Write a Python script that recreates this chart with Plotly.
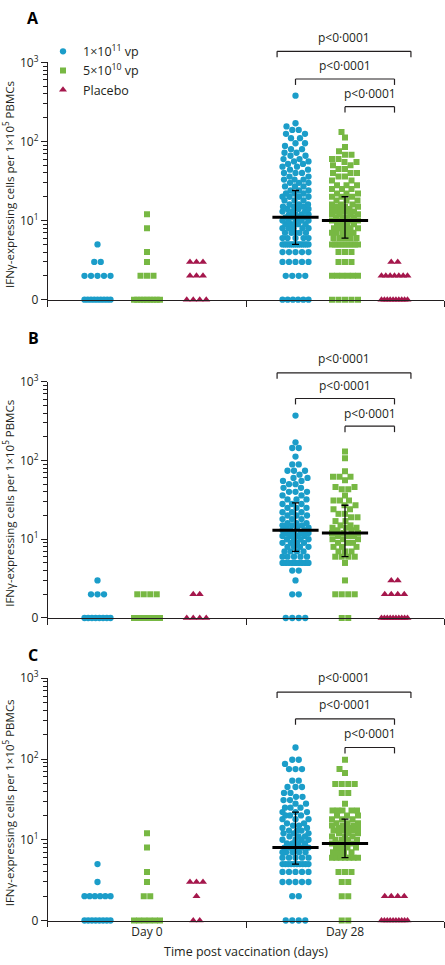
import numpy as np
import plotly.graph_objects as go

# groups, colours, markers
GROUPS = ["1×10<sup>11</sup> vp", "5×10<sup>10</sup> vp", "Placebo"]
COLORS = ["#1b9dc9", "#77b843", "#a5174c"]
SYMBOLS = ["circle", "square", "triangle-up"]
SIZES = [6.3, 6, 7]
DAYS = ["Day 0", "Day 28"]
PANELS = ["A", "B", "C"]
Y_TICKS = [1, 10, 100, 1000]
Y_TICKTEXT = ["0", "10<sup>1</sup>", "10<sup>2</sup>", "10<sup>3</sup>"]
P_TEXT = "p&lt;0·0001"

A_D0_HI = [(0, 9), (2, 5), (3, 2), (5, 1)]
A_D0_MID = [(0, 9), (2, 3), (3, 1), (4, 1), (8, 1), (12, 1)]
A_D0_PBO = [(0, 4), (2, 3), (3, 3)]
A_D28_HI = [(0, 6), (2, 4), (3, 5), (4, 5), (5, 14), (6, 5), (7, 5), (8, 5), (9, 5),
            (10, 5), (11, 4), (12, 4), (13, 3), (14, 3), (15, 3), (16, 3), (18, 3),
            (20, 4), (22, 3), (24, 3), (27, 3), (30, 3), (33, 3), (36, 2), (40, 3),
            (44, 2), (48, 2), (52, 2), (56, 2), (60, 2), (66, 2), (72, 2), (80, 2),
            (88, 1), (95, 2), (110, 2), (125, 2), (140, 2), (155, 1), (170, 1), (380, 1)]
A_D28_MID = [(0, 5), (2, 6), (3, 3), (4, 3), (5, 10), (6, 5), (7, 5), (8, 5), (9, 4),
             (10, 5), (11, 4), (12, 4), (13, 3), (14, 3), (15, 3), (16, 3), (18, 3),
             (20, 3), (22, 3), (25, 3), (28, 3), (32, 2), (36, 2), (40, 3), (45, 2),
             (50, 2), (55, 2), (60, 2), (68, 2), (75, 1), (85, 1), (112, 1), (132, 1)]
A_D28_PBO = [(0, 10), (2, 7), (3, 2)]

B_D0_HI = [(0, 8), (2, 3), (3, 1)]
B_D0_MID = [(0, 6), (2, 4)]
B_D0_PBO = [(0, 4), (2, 2)]
B_D28_HI = [(0, 4), (2, 2), (3, 1), (4, 2), (5, 9), (6, 5), (7, 4), (8, 4), (9, 4),
            (10, 4), (11, 4), (12, 4), (13, 3), (14, 3), (15, 3), (16, 3), (18, 3),
            (20, 3), (22, 3), (25, 3), (28, 3), (32, 3), (36, 2), (40, 3), (45, 2),
            (50, 2), (55, 2), (60, 2), (66, 1), (74, 3), (89, 2), (112, 1), (144, 2),
            (170, 1), (372, 1)]
B_D28_MID = [(0, 2), (2, 4), (3, 1), (5, 1), (6, 4), (7, 3), (8, 3), (9, 3), (10, 3),
             (11, 3), (12, 3), (13, 2), (14, 3), (15, 2), (17, 2), (19, 2), (21, 2),
             (24, 2), (27, 2), (31, 3), (36, 1), (43, 2), (46, 2), (56, 1), (62, 3),
             (73, 1), (107, 1), (130, 1)]
B_D28_PBO = [(0, 10), (2, 4), (3, 2)]

C_D0_HI = [(0, 8), (2, 6), (3, 1), (5, 1)]
C_D0_MID = [(0, 6), (2, 2), (3, 1), (4, 1), (8, 1), (12, 1)]
C_D0_PBO = [(0, 2), (2, 1), (3, 3)]
C_D28_HI = [(0, 4), (2, 2), (3, 5), (4, 5), (5, 10), (6, 5), (7, 5), (8, 5), (9, 4),
            (10, 4), (11, 3), (12, 3), (13, 3), (14, 2), (15, 2), (16, 2), (18, 3),
            (20, 3), (22, 3), (25, 3), (28, 2), (31, 2), (34, 2), (38, 2), (45, 3),
            (54, 2), (75, 3), (87, 1), (98, 2), (139, 1)]
C_D28_MID = [(0, 2), (2, 2), (3, 2), (4, 3), (6, 7), (7, 4), (8, 4), (9, 4), (10, 4),
             (11, 3), (12, 3), (13, 3), (14, 3), (15, 3), (16, 3), (18, 3), (20, 3),
             (23, 5), (28, 1), (38, 2), (49, 4), (67, 1), (75, 1), (98, 1)]
C_D28_PBO = [(0, 10), (2, 4)]

# day 28 median and IQR (1e11, 5e10)
MEDIAN_A, Q1_A, Q3_A = [11, 10], [5, 6], [24, 20]
MEDIAN_B, Q1_B, Q3_B = [13, 12], [7, 6], [29, 27]
MEDIAN_C, Q1_C, Q3_C = [8, 9], [5, 6], [22, 18]

DATA = {
    "A": [[A_D0_HI, A_D0_MID, A_D0_PBO], [A_D28_HI, A_D28_MID, A_D28_PBO]],
    "B": [[B_D0_HI, B_D0_MID, B_D0_PBO], [B_D28_HI, B_D28_MID, B_D28_PBO]],
    "C": [[C_D0_HI, C_D0_MID, C_D0_PBO], [C_D28_HI, C_D28_MID, C_D28_PBO]],
}
STATS = {"A": (MEDIAN_A, Q1_A, Q3_A), "B": (MEDIAN_B, Q1_B, Q3_B), "C": (MEDIAN_C, Q1_C, Q3_C)}

# page geometry (px): top of axis (10^3), "0" line, bottom of axis line
W, H = 445, 965
ML, MR = 48, 1
UNIT_PX = (W - ML - MR) / 2.0
GEOM = {"A": (53, 293, 300), "B": (376, 615, 622), "C": (676, 921, 928)}
LETTER_Y = {"A": 8, "B": 332, "C": 652}
OFFSETS = [-0.25, 0.0, 0.25]

# bracket heights in log10 units: (bracket, text)
BRACKETS = {
    "A": [(3.14, 3.31), (2.79, 2.96), (2.44, 2.61)],
    "B": [(3.113, 3.30), (2.787, 2.95), (2.435, 2.60)],
    "C": [(2.829, 3.01), (2.498, 2.67), (2.143, 2.318)],
}
BRACKET_X = [(0.657, 1.333), (0.75, 1.25), (1.0, 1.25)]
INK = "#231f20"
FONT = "Open Sans"


def swarm(pairs, dec_px, d=6.5, hw=13.0):
    # prism-like dot plot: rows of equal values centred, collisions resolved outward
    xs, ys, placed = [], [], []
    cand = sorted(np.arange(-hw, hw + 1e-9, 0.5), key=lambda c: (abs(c), c))
    for v, n in sorted(pairs):
        y = np.log10(max(v, 1)) * dec_px
        s = d if n == 1 else min(d, 2 * hw / (n - 1))
        row = [(i - (n - 1) / 2) * s for i in range(n)]
        near = [(px, py) for px, py in placed if abs(py - y) < d]
        if all(np.hypot(x - px, y - py) >= d * 0.98 for x in row for px, py in near):
            new = row
        else:
            new = []
            for _ in range(n):
                pts = near + [(x, y) for x in new]
                best, bestd = 0.0, -1.0
                for c in cand:
                    md = min((np.hypot(c - px, y - py) for px, py in pts), default=1e9)
                    if md >= d:
                        best = c
                        break
                    if md > bestd:
                        bestd, best = md, c
                new.append(best)
        placed += [(x, y) for x in new]
        xs += new
        ys += [max(v, 1)] * n
    return xs, ys


fig = go.Figure()
layout = dict(shapes=[], annotations=[])

for k, p in enumerate(PANELS):
    top, zero, bottom = GEOM[p]
    dec_px = (zero - top) / 3.0
    r0 = -(bottom - zero) / dec_px
    xa = "x" if k == 0 else f"x{k + 1}"
    ya = "y" if k == 0 else f"y{k + 1}"
    xkey = "xaxis" if k == 0 else f"xaxis{k + 1}"
    ykey = "yaxis" if k == 0 else f"yaxis{k + 1}"

    for g in range(3):
        xs, ys = [], []
        for di in range(2):
            sx, sy = swarm(DATA[p][di][g], dec_px)
            xs += [di + OFFSETS[g] + s / UNIT_PX for s in sx]
            ys += sy
        fig.add_trace(go.Scatter(
            x=xs, y=ys, mode="markers", xaxis=xa, yaxis=ya,
            name=GROUPS[g], showlegend=(k == 0),
            marker=dict(symbol=SYMBOLS[g], size=SIZES[g], color=COLORS[g], line=dict(width=0)),
        ))

    med, q1, q3 = STATS[p]
    for g in range(2):
        fig.add_trace(go.Scatter(
            x=[1 + OFFSETS[g]], y=[med[g]], mode="markers", xaxis=xa, yaxis=ya, showlegend=False,
            marker=dict(symbol="line-ew", size=33, color="black", line=dict(width=3, color="black")),
            error_y=dict(type="data", symmetric=False, array=[q3[g] - med[g]],
                         arrayminus=[med[g] - q1[g]], thickness=1.3, width=3.5, color="black"),
        ))

    layout[ykey] = dict(
        type="log", range=[r0, 3], domain=[1 - bottom / H, 1 - top / H], anchor=xa,
        showline=True, linecolor=INK, linewidth=1.3, ticks="outside", ticklen=6,
        tickcolor=INK, tickwidth=1.1, tickmode="array", tickvals=Y_TICKS, ticktext=Y_TICKTEXT,
        minor=dict(ticks="outside", ticklen=4, tickcolor=INK, tickwidth=1, tickmode="array",
                   tickvals=[m * 10 ** e for e in range(3) for m in range(2, 10)]),
        showgrid=False, zeroline=False, tickfont=dict(size=12, color=INK, family=FONT),
        title=dict(text="IFNγ-expressing cells per 1×10<sup>5</sup> PBMCs",
                   font=dict(size=11.5, color=INK, family=FONT), standoff=6),
    )
    layout[xkey] = dict(
        range=[-0.5, 1.5], domain=[0, 1], anchor="free", position=1 - zero / H,
        showline=True, linecolor=INK, linewidth=1.3, showgrid=False, zeroline=False,
        tickmode="array", tickvals=[0, 1], ticktext=DAYS, ticks="",
        showticklabels=(p == "C"), tickfont=dict(size=12, color=INK, family=FONT),
        minor=dict(ticks="outside", ticklen=6, tickcolor=INK, tickwidth=1.3,
                   tickmode="array", tickvals=[0.5, 1.5]),
    )
    if p == "C":
        layout[xkey]["title"] = dict(text="Time post vaccination (days)",
                                     font=dict(size=12.5, color=INK, family=FONT), standoff=8)

    # significance brackets
    span = 3 - r0
    tick = 6 / dec_px / span
    for (x0, x1), (blv, tlv) in zip(BRACKET_X, BRACKETS[p]):
        fy = (blv - r0) / span
        for seg in [(x0, fy, x1, fy), (x0, fy, x0, fy - tick), (x1, fy, x1, fy - tick)]:
            layout["shapes"].append(dict(
                type="line", xref=xa, yref=f"{ya} domain", x0=seg[0], y0=seg[1], x1=seg[2], y1=seg[3],
                line=dict(color=INK, width=1.2)))
        layout["annotations"].append(dict(
            text=P_TEXT, xref=xa, yref=f"{ya} domain", x=(x0 + x1) / 2, y=(tlv - r0) / span,
            showarrow=False, xanchor="center", yanchor="middle",
            font=dict(size=12, color=INK, family=FONT)))

    layout["annotations"].append(dict(
        text=f"<b>{p}</b>", xref="paper", yref="paper", x=(33 - ML) / (W - ML - MR),
        y=1 - LETTER_Y[p] / H, showarrow=False, xanchor="center", yanchor="middle",
        font=dict(size=16, color="black", family=FONT)))

fig.update_layout(
    **layout,
    width=W, height=H, autosize=False,
    margin=dict(l=ML, r=MR, t=0, b=0),
    paper_bgcolor="white", plot_bgcolor="white",
    font=dict(family=FONT, color=INK),
    legend=dict(x=0, y=1 - 27 / H, xanchor="left", yanchor="top", indentation=-5,
                bgcolor="rgba(0,0,0,0)", font=dict(size=12.5, color=INK, family=FONT),
                tracegroupgap=0, itemclick=False),
)

fig.write_html("out.html", config={"displayModeBar": False},
               post_script="document.body.style.margin='0';")
